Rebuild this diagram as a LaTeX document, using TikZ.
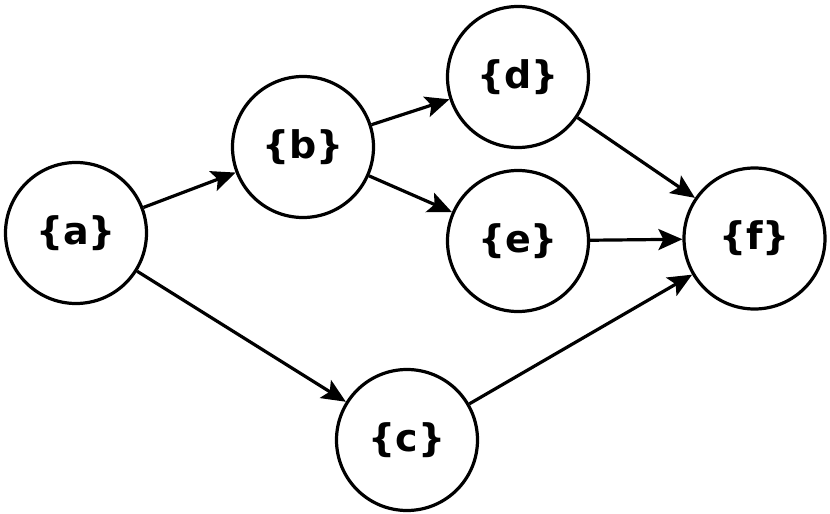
\documentclass[tikz,border=0pt]{standalone}
\usepackage{fontspec}
\setmainfont{DejaVu Sans}
\usetikzlibrary{arrows.meta}
\begin{document}
\begin{tikzpicture}[x=1pt,y=-1pt,
  vtx/.style={circle,draw,line width=3.2pt,minimum size=141pt,inner sep=0pt,font=\fontsize{38}{44}\selectfont\bfseries},
  edge/.style={line width=3.2pt,-{Stealth[length=24pt,width=21pt,inset=5pt]},shorten >=0pt}]
\useasboundingbox (0,0) rectangle (830,514);
\node[vtx] (a) at (76,233) {\{a\}};
\node[vtx] (b) at (303,147) {\{b\}};
\node[vtx] (d) at (518,77) {\{d\}};
\node[vtx] (e) at (518,241) {\{e\}};
\node[vtx] (f) at (754.5,238.5) {\{f\}};
\node[vtx] (c) at (407,440) {\{c\}};
\draw[edge] (a) -- (b);
\draw[edge] (a) -- (c);
\draw[edge] (b) -- (d);
\draw[edge] (b) -- (e);
\draw[edge] (d) -- (f);
\draw[edge] (e) -- (f);
\draw[edge] (c) -- (f);
\end{tikzpicture}
\end{document}
